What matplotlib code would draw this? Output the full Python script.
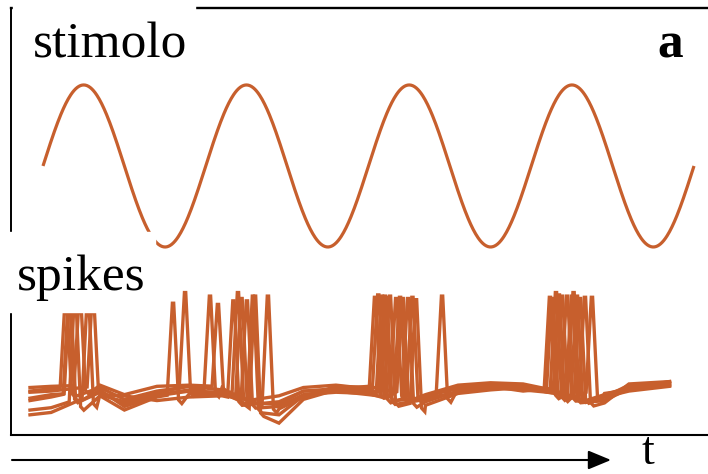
import numpy as np
import matplotlib
matplotlib.use("Agg")
import matplotlib.pyplot as plt
from matplotlib.patches import Rectangle, FancyArrowPatch

# stimulus: sinusoid, 4 cycles of 1 s
stim_freq = 1.0
stim_amp = 1.0
stim_t = np.linspace(0.0, 4.0, 800)

# baseline knots (s) shared by all trials, membrane level per trial (mV)
knot_t = [-0.08, 0.05, 0.35, 0.5, 0.7, 0.9, 1.1, 1.45, 1.6, 1.8,
          2.0, 2.35, 2.55, 2.75, 2.95, 3.1, 3.45, 3.6, 3.85]
knot_v = [
    [-66, -64, -63, -73, -66, -63, -66, -70, -63, -61, -64, -71, -62, -61, -64, -66, -71, -61, -59],
    [-72, -69, -67, -77, -69, -65, -63, -93, -73, -65, -67, -75, -66, -60, -61, -65, -74, -64, -58],
    [-82, -80, -70, -82, -71, -68, -69, -79, -69, -67, -68, -78, -68, -65, -63, -64, -68, -65, -61],
    [-63, -62, -61, -69, -62, -61, -62, -81, -71, -62, -63, -69, -61, -59, -60, -63, -76, -60, -58],
    [-86, -84, -69, -70, -74, -71, -70, -75, -66, -66, -69, -73, -64, -63, -65, -67, -71, -66, -62],
    [-67, -66, -62, -75, -67, -62, -65, -77, -66, -64, -62, -70, -64, -62, -66, -64, -74, -62, -60],
    [-74, -71, -65, -79, -70, -66, -67, -86, -70, -63, -65, -72, -67, -63, -62, -67, -69, -63, -61],
]

# spike times (s) and peak voltages (mV) per trial
spike_t = [
    [0.141, 0.873, 1.198, 2.040, 2.194, 3.152, 3.281],
    [0.166, 1.026, 1.303, 2.083, 2.243, 3.115, 3.250],
    [0.197, 0.799, 1.253, 2.132, 2.292, 3.189, 3.373],
    [0.227, 1.075, 1.382, 2.060, 2.210, 3.130, 3.330],
    [0.276, 1.170, 2.110, 2.452, 3.170, 3.300],
    [0.307, 1.220, 2.170, 2.270, 3.220],
    [0.160, 1.290, 2.100, 3.260],
]
spike_v = [
    [15, 17, 17, 13, 13, 17, 14],
    [15, 14, 14, 14, 12, 13, 14],
    [15, 8, 10, 14, 11, 14, 13],
    [15, 7, 14, 15, 12, 12, 13],
    [15, 10, 13, 14, 15, 12],
    [15, 12, 12, 13, 14],
    [15, 14, 14, 17],
]

orange = "#c75f2d"
rise_w = 0.036
fall_w = 0.034

fig = plt.figure(figsize=(7.08, 4.74), dpi=100)
W, H = 708.0, 474.0

xlim = (-32 / 162.75, 665 / 162.75)

# spikes panel (added first so the stimulus trough can overlap it)
ax2 = fig.add_axes([11 / W, 1 - 435 / H, 697 / W, 203 / H])
for kv, st, sv in zip(knot_v, spike_t, spike_v):
    pts = list(zip(knot_t, kv))
    for ts, vp in zip(st, sv):
        b = np.interp(ts, knot_t, kv)
        pts = [p for p in pts if not (ts - rise_w <= p[0] <= ts + fall_w + 0.02)]
        pts += [(ts - rise_w, b), (ts - 0.004, vp), (ts + 0.004, vp),
                (ts + fall_w, b - 4), (ts + fall_w + 0.02, b - 7)]
    pts.sort()
    tt, vv = zip(*pts)
    ax2.plot(tt, vv, color=orange, lw=2.4, solid_joinstyle="miter")
ax2.set_xlim(*xlim)
ax2.set_ylim(-103, 68)
ax2.patch.set_visible(False)
ax2.spines["right"].set_visible(False)
ax2.spines["top"].set_visible(False)
ax2.spines["bottom"].set_linewidth(1.5)
ax2.spines["left"].set_linewidth(1.4)
ax2.set_xticks([])
ax2.set_yticks([])

# stimulus panel
ax1 = fig.add_axes([11 / W, 1 - 232 / H, 697 / W, 224 / H])
ax1.plot(stim_t, stim_amp * np.sin(2 * np.pi * stim_freq * stim_t),
         color=orange, lw=2.3, clip_on=False, solid_capstyle="butt")
ax1.set_xlim(*xlim)
ax1.set_ylim(-0.815, 1.95)
ax1.patch.set_visible(False)
ax1.spines["right"].set_visible(False)
ax1.spines["bottom"].set_visible(False)
ax1.spines["top"].set_linewidth(1.7)
ax1.spines["left"].set_linewidth(1.4)
ax1.set_xticks([])
ax1.set_yticks([])

# white label boxes cutting the frames
fig.add_artist(Rectangle((13 / W, 1 - 16 / H), 182 / W, 16 / H,
                         transform=fig.transFigure, color="white", zorder=5))
fig.add_artist(Rectangle((0, 1 - 312 / H), 155 / W, 80 / H,
                         transform=fig.transFigure, color="white", zorder=5))

font = dict(family="Liberation Serif", size=37, va="baseline", zorder=6)
fig.text(33 / W, 1 - 57 / H, "stimolo", **font)
fig.text(17 / W, 1 - 290 / H, "spikes", **font)
fig.text(657 / W, 1 - 57 / H, "a", weight="bold", **font)
fig.text(642 / W, 0.5 / H, "t", family="Liberation Serif", size=33,
         va="bottom", zorder=6)

# time arrow
fig.add_artist(FancyArrowPatch((12, 14), (611, 14), transform=None,
                               arrowstyle="-|>,head_length=0.7,head_width=0.29",
                               mutation_scale=20, lw=1.5, color="black",
                               shrinkA=0, shrinkB=0))

fig.savefig("out.png", dpi=100)
